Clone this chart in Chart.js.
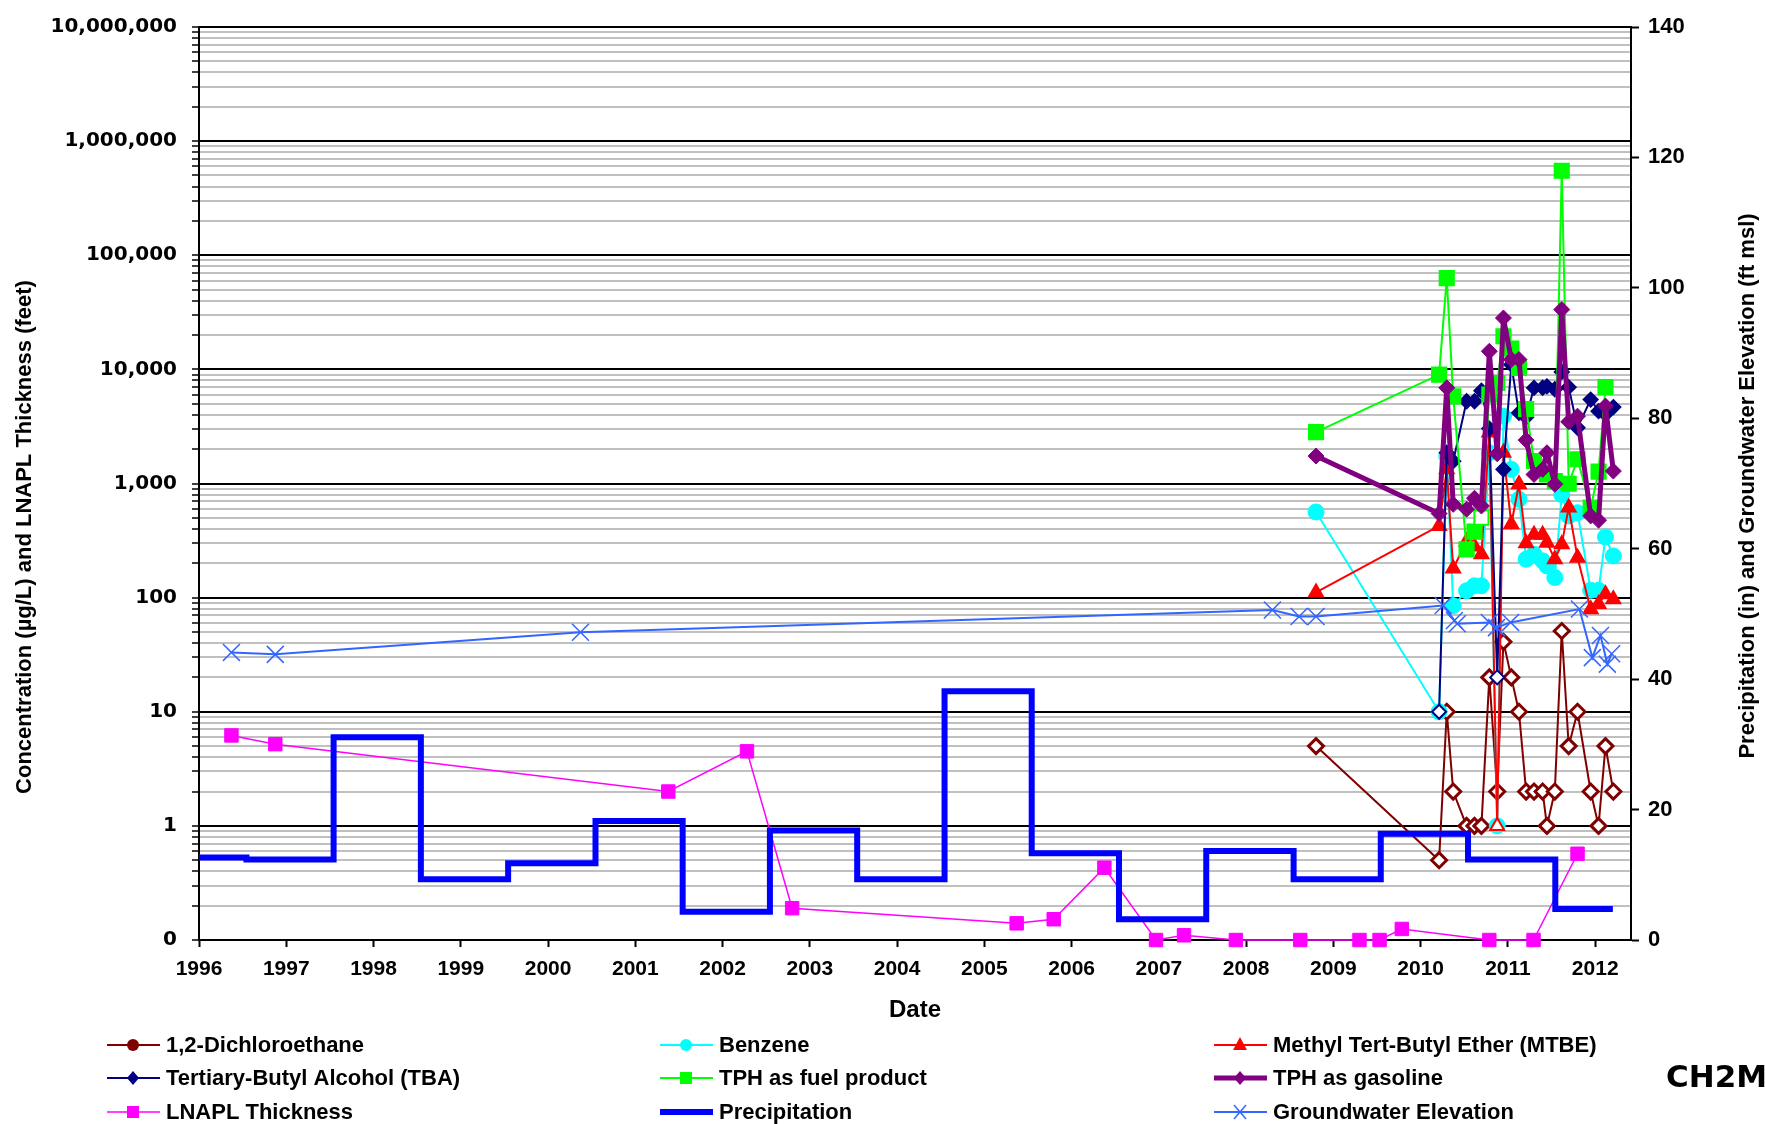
<!DOCTYPE html>
<html>
<head>
<meta charset="utf-8">
<title>Concentrations, LNAPL, Precipitation and Groundwater</title>
<script src="https://cdn.jsdelivr.net/npm/chart.js@4.4.0/dist/chart.umd.min.js"></script>
<style>
  html, body { margin: 0; padding: 0; background: #fff; }
  #wrap { position: relative; width: 1765px; height: 1124px; }
</style>
</head>
<body>
<div id="wrap"><canvas id="myChart" aria-label="concentration chart" role="img"></canvas></div>
<script>
// sampling events 2008-2012 (concentrations in ug/L)
const sampleDates = ["2008-10-20", "2010-03-19", "2010-04-20", "2010-05-17", "2010-07-12", "2010-08-14",
  "2010-09-12", "2010-10-15", "2010-11-17", "2010-12-13", "2011-01-15", "2011-02-16", "2011-03-18",
  "2011-04-20", "2011-05-26", "2011-06-13", "2011-07-16", "2011-08-14", "2011-09-12", "2011-10-19",
  "2011-12-13", "2012-01-15", "2012-02-13", "2012-03-17"];
const dichloroethane = [5, 0.5, 10, 2, 1, 1, 1, 20, 2, 41, 20, 10, 2, 2, 2, 1, 2, 51, 5, 10, 2, 1, 5, 2];
const benzene = [563, 10, 1740, 85, 115, 127, 127, 1860, 1, 3890, 1330, 728, 217, 240, 210, 190, 150, 800, 520, 555, 116, 116, 340, 232];
const mtbe = [111, 425, 1330, 180, 310, 280, 240, 2800, 1, 1860, 440, 985, 300, 355, 355, 303, 217, 294, 615, 224, 79, 88, 107, 97];
const tba = [null, 10, 1860, 1570, 5260, 5260, 6500, 3030, 20, 1330, 11000, 4160, 3800, 6890, 6900, 7100, 6700, 9500, 6980, 3080, 5440, 4300, 4030, 4670];
const tphFuel = [2820, 9000, 63000, 5800, 265, 379, 502, 6030, 7600, 19500, 15200, 10300, 4500, 1575, null, 1200, 1050, 550000, 996, 1630, 615, 1270, 7000, null];
const tphGas = [1740, 545, 6890, 657, 595, 743, 635, 14400, 1820, 28200, 12200, 12200, 2400, 1200, 1330, 1860, 985, 33400, 3470, 3890, 520, 477, 4770, 1285];

// non-detect points (drawn hollow)
const mtbeND = [8];
const tbaND = [1, 8];
const tphFuelND = [6];

const lnaplDates = ["1996-05-16", "1996-11-16", "2001-05-19", "2002-04-13", "2002-10-19", "2005-05-16",
  "2005-10-18", "2006-05-18", "2006-12-20", "2007-04-16", "2007-11-19", "2008-08-15", "2009-04-20",
  "2009-07-13", "2009-10-14", "2010-10-15", "2011-04-18", "2011-10-19"];
const lnapl = [6.2, 5.2, 2.0, 4.5, 0.19, 0.14, 0.152, 0.43, 0, 0.11, 0, 0, 0, 0, 0.125, 0, 0, 0.57];

const precipDates = ["1996-01-01", "1996-07-18", "1997-07-18", "1998-07-18", "1999-07-18", "2000-07-18",
  "2001-07-18", "2002-07-18", "2003-07-18", "2004-07-18", "2005-07-18", "2006-07-18", "2007-07-18",
  "2008-07-18", "2009-07-18", "2010-07-18", "2011-07-18", "2012-03-15"];
const precip = [12.65, 12.35, 31.1, 9.3, 11.75, 18.25, 4.35, 16.8, 9.3, 38.15, 13.3, 3.2, 13.65, 9.3, 16.3, 12.35, 4.75, 4.75];

const gwDates = ["1996-05-16", "1996-11-16", "2000-05-16", "2008-04-20", "2008-08-10", "2008-10-20",
  "2010-04-05", "2010-05-22", "2010-06-03", "2010-10-15", "2010-11-14", "2011-01-12", "2011-10-27",
  "2011-12-20", "2012-01-23", "2012-02-21", "2012-03-10"];
const gwElev = [44.1, 43.8, 47.2, 50.6, 49.6, 49.6, 51.3, 49.0, 48.5, 48.7, 47.9, 48.7, 50.75, 43.3, 46.7, 42.3, 43.9];

const seriesNames = ["1,2-Dichloroethane", "Benzene", "Methyl Tert-Butyl Ether (MTBE)",
  "Tertiary-Butyl Alcohol (TBA)", "TPH as fuel product", "TPH as gasoline",
  "LNAPL Thickness", "Precipitation", "Groundwater Elevation"];

const yearTicks = [1996, 1997, 1998, 1999, 2000, 2001, 2002, 2003, 2004, 2005, 2006, 2007, 2008, 2009, 2010, 2011, 2012];
const leftTickValues = [0.1, 1, 10, 100, 1000, 10000, 100000, 1000000, 10000000];
const leftTickLabels = ["0", "1", "10", "100", "1,000", "10,000", "100,000", "1,000,000", "10,000,000"];
const minorSteps = [2, 3, 4, 5, 6, 7, 8, 9];
const rightTickValues = [0, 20, 40, 60, 80, 100, 120, 140];
const logFloor = leftTickValues[0];

function toYear(s) {
  const d = new Date(s + "T00:00:00Z");
  const y = d.getUTCFullYear();
  const start = Date.UTC(y, 0, 1);
  const end = Date.UTC(y + 1, 0, 1);
  return y + (d.getTime() - start) / (end - start);
}

function points(dates, values) {
  return values.map((v, i) => ({ x: toYear(dates[i]), y: v }));
}

// zeros can't sit on a log axis, so they go on its bottom line like the original
function logPoints(dates, values) {
  return values.map((v, i) => ({ x: toYear(dates[i]), y: v === 0 ? logFloor : v }));
}

function fillFor(color, nd) {
  return (c) => (nd.includes(c.dataIndex) ? "#ffffff" : color);
}

function isDecade(v) {
  return leftTickValues.some((d) => Math.abs(d - v) < d * 1e-9);
}

const legendMarks = ["circle", "circle", "triangle", "diamond", "square", "diamond", "square", "none", "cross"];

// axis titles, legend and logo drawn on the canvas
const extras = {
  id: "extras",
  afterDraw(chart) {
    const ctx = chart.ctx;
    ctx.save();
    ctx.fillStyle = "#000";
    ctx.font = 'bold 22px "Liberation Sans", Arial, sans-serif';
    ctx.textAlign = "center";
    ctx.textBaseline = "middle";
    ctx.translate(25, 537);
    ctx.rotate(-Math.PI / 2);
    ctx.fillText("Concentration (\u00b5g/L) and LNAPL Thickness (feet)", 0, 0);
    ctx.restore();

    ctx.save();
    ctx.fillStyle = "#000";
    ctx.font = 'bold 22px "Liberation Sans", Arial, sans-serif';
    ctx.textAlign = "center";
    ctx.textBaseline = "middle";
    ctx.translate(1748, 486);
    ctx.rotate(-Math.PI / 2);
    ctx.fillText("Precipitation (in) and Groundwater Elevation (ft msl)", 0, 0);
    ctx.restore();

    const colX = [107, 660, 1214];
    const rowY = [1045, 1078, 1112];
    chart.data.datasets.forEach((ds, i) => {
      const x = colX[i % 3];
      const y = rowY[Math.floor(i / 3)];
      const cx = x + 26;
      const color = ds.borderColor;
      ctx.save();
      ctx.strokeStyle = color;
      ctx.fillStyle = color;
      ctx.lineWidth = Math.min(ds.borderWidth, 6);
      ctx.beginPath();
      ctx.moveTo(x, y);
      ctx.lineTo(x + 53, y);
      ctx.stroke();
      ctx.lineWidth = 1.5;
      ctx.beginPath();
      const m = legendMarks[i];
      if (m === "circle") {
        ctx.arc(cx, y, 6, 0, Math.PI * 2);
        ctx.fill();
      } else if (m === "triangle") {
        ctx.moveTo(cx, y - 8);
        ctx.lineTo(cx + 7, y + 5);
        ctx.lineTo(cx - 7, y + 5);
        ctx.closePath();
        ctx.fill();
      } else if (m === "diamond") {
        ctx.moveTo(cx, y - 7);
        ctx.lineTo(cx + 6, y);
        ctx.lineTo(cx, y + 7);
        ctx.lineTo(cx - 6, y);
        ctx.closePath();
        ctx.fill();
      } else if (m === "square") {
        ctx.rect(cx - 6, y - 6, 12, 12);
        ctx.fill();
      } else if (m === "cross") {
        ctx.moveTo(cx - 6, y - 7);
        ctx.lineTo(cx + 6, y + 7);
        ctx.moveTo(cx + 6, y - 7);
        ctx.lineTo(cx - 6, y + 7);
        ctx.stroke();
      }
      ctx.fillStyle = "#000";
      ctx.font = 'bold 22px "Liberation Sans", Arial, sans-serif';
      ctx.textAlign = "left";
      ctx.textBaseline = "middle";
      ctx.fillText(ds.label, x + 59, y + 1);
      ctx.restore();
    });

    ctx.save();
    ctx.fillStyle = "#000";
    ctx.font = 'bold 31px "DejaVu Sans", sans-serif';
    ctx.textAlign = "left";
    ctx.textBaseline = "middle";
    ctx.fillText("CH2M", 1666, 1079);
    ctx.restore();
  },
};

const ctx = document.getElementById("myChart").getContext("2d");
const myChart = new Chart(ctx, {
  type: "line",
  data: {
    datasets: [
      {
        label: seriesNames[0],
        data: points(sampleDates, dichloroethane),
        borderColor: "#800000",
        borderWidth: 2,
        pointStyle: "rectRot",
        pointRadius: 7.5,
        pointBackgroundColor: "#ffffff",
        pointBorderColor: "#800000",
        pointBorderWidth: 3,
        order: 9,
      },
      {
        label: seriesNames[1],
        data: points(sampleDates, benzene),
        borderColor: "#00FFFF",
        borderWidth: 2,
        pointStyle: "circle",
        pointRadius: 8,
        pointBackgroundColor: "#00FFFF",
        pointBorderColor: "#00FFFF",
        pointBorderWidth: 1,
        order: 8,
      },
      {
        label: seriesNames[2],
        data: points(sampleDates, mtbe),
        borderColor: "#FF0000",
        borderWidth: 2,
        pointStyle: "triangle",
        pointRadius: 8,
        pointBackgroundColor: fillFor("#FF0000", mtbeND),
        pointBorderColor: "#FF0000",
        pointBorderWidth: 2,
        order: 7,
      },
      {
        label: seriesNames[3],
        data: points(sampleDates, tba),
        borderColor: "#000080",
        borderWidth: 2,
        pointStyle: "rectRot",
        pointRadius: 7,
        pointBackgroundColor: fillFor("#000080", tbaND),
        pointBorderColor: "#000080",
        pointBorderWidth: 2,
        order: 6,
      },
      {
        label: seriesNames[4],
        data: points(sampleDates, tphFuel),
        borderColor: "#00FF00",
        borderWidth: 2,
        pointStyle: "rect",
        pointRadius: 10,
        pointBackgroundColor: fillFor("#00FF00", tphFuelND),
        pointBorderColor: "#00FF00",
        pointBorderWidth: 2,
        order: 5,
      },
      {
        label: seriesNames[5],
        data: points(sampleDates, tphGas),
        borderColor: "#800080",
        borderWidth: 5,
        borderJoinStyle: "round",
        pointStyle: "rectRot",
        pointRadius: 8,
        pointBackgroundColor: "#800080",
        pointBorderColor: "#800080",
        pointBorderWidth: 1,
        order: 4,
      },
      {
        label: seriesNames[6],
        data: logPoints(lnaplDates, lnapl),
        borderColor: "#FF00FF",
        borderWidth: 1.5,
        pointStyle: "rect",
        pointRadius: 9.5,
        pointBackgroundColor: "#FF00FF",
        pointBorderColor: "#FF00FF",
        pointBorderWidth: 1,
        order: 3,
      },
      {
        label: seriesNames[7],
        data: points(precipDates, precip),
        yAxisID: "y2",
        borderColor: "#0000FF",
        borderWidth: 6,
        stepped: true,
        pointRadius: 0,
        order: 2,
      },
      {
        label: seriesNames[8],
        data: points(gwDates, gwElev),
        yAxisID: "y2",
        borderColor: "#3366FF",
        borderWidth: 2,
        pointStyle: "crossRot",
        pointRadius: 12,
        pointBorderColor: "#3366FF",
        pointBorderWidth: 1.5,
        order: 1,
      },
    ],
  },
  options: {
    responsive: true,
    maintainAspectRatio: false,
    animation: false,
    spanGaps: true,
    clip: false,
    layout: { padding: { left: 0, right: 0, top: 25, bottom: 99 } },
    elements: { line: { tension: 0 } },
    plugins: {
      legend: { display: false },
      tooltip: { enabled: false },
    },
    scales: {
      x: {
        type: "linear",
        position: "bottom",
        min: 1996,
        max: 2012.41,
        afterBuildTicks: (scale) => {
          scale.ticks = yearTicks.map((v) => ({ value: v }));
        },
        afterFit: (scale) => {
          scale.height = 85;
        },
        ticks: {
          autoSkip: false,
          maxRotation: 0,
          padding: 10,
          color: "#000",
          font: { family: '"Liberation Sans", Arial, sans-serif', size: 21, weight: "bold" },
          callback: (v) => String(v),
        },
        grid: { drawOnChartArea: false, tickLength: 7, tickColor: "#000", tickWidth: 2 },
        border: { color: "#000", width: 2 },
        title: {
          display: true,
          text: "Date",
          color: "#000",
          padding: { top: 0, bottom: 0 },
          font: { family: '"Liberation Sans", Arial, sans-serif', size: 24, weight: "bold" },
        },
      },
      y: {
        type: "logarithmic",
        position: "left",
        min: 0.1,
        max: 10000000,
        afterBuildTicks: (scale) => {
          const t = [];
          leftTickValues.forEach((v, i) => {
            t.push({ value: v, major: true });
            if (i < leftTickValues.length - 1) {
              minorSteps.forEach((m) => t.push({ value: v * m }));
            }
          });
          scale.ticks = t;
        },
        afterFit: (scale) => {
          scale.width = 199;
        },
        ticks: {
          autoSkip: false,
          padding: 15,
          color: "#000",
          font: { family: '"DejaVu Sans", sans-serif', size: 20, weight: "bold" },
          callback: (value) => {
            const i = leftTickValues.findIndex((d) => Math.abs(d - value) < d * 1e-9);
            return i >= 0 ? leftTickLabels[i] : "";
          },
        },
        grid: {
          color: (c) => (c.tick && isDecade(c.tick.value) ? "#000000" : "#C0C0C0"),
          lineWidth: 2,
          tickColor: "#000",
          tickLength: 7,
          tickWidth: 1.5,
        },
        border: { color: "#000", width: 2 },
      },
      y2: {
        type: "linear",
        position: "right",
        min: 0,
        max: 140,
        afterBuildTicks: (scale) => {
          scale.ticks = rightTickValues.map((v) => ({ value: v }));
        },
        afterFit: (scale) => {
          scale.width = 134;
        },
        ticks: {
          autoSkip: false,
          padding: 9,
          color: "#000",
          font: { family: '"Liberation Sans", Arial, sans-serif', size: 22, weight: "bold" },
        },
        grid: { drawOnChartArea: false, tickLength: 8, tickColor: "#000", tickWidth: 2 },
        border: { color: "#000", width: 2 },
      },
    },
  },
  plugins: [extras],
});
</script>
</body>
</html>
